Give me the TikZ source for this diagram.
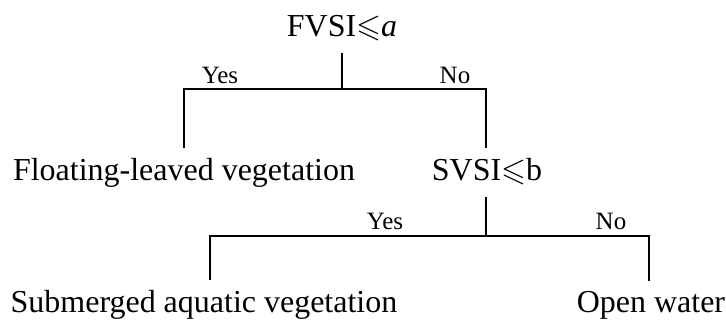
\documentclass[tikz,border=0pt]{standalone}
\usepackage{fontspec}
\setmainfont{Liberation Serif}
\usepackage{amssymb}
\usepackage{tikz}

\tikzset{
  test/.style={font=\fontsize{9.1}{11}\selectfont, anchor=base, inner sep=3pt},
  answer/.style={font=\fontsize{7.1}{8.5}\selectfont, anchor=base, inner sep=0pt},
  branch/.style={draw=black, line width=0.45pt}
}

\begin{document}
\begin{tikzpicture}
                    \useasboundingbox (0,0) rectangle (7.26,3.21);

                    \node[test] (FVSI) at (3.42,2.84) {FVSI$\leqslant$\textit{a}};
                    \node[test] (FLV) at (1.84,1.40) {Floating-leaved vegetation};
                    \node[test] (SVSI) at (4.87,1.40) {SVSI$\leqslant$b};
                    \node[test] (SAV) at (2.04,0.08) {Submerged aquatic vegetation};
                    \node[test] (OW) at (6.51,0.08) {Open water};

                    \coordinate (J1) at (3.42,2.32);
                    \coordinate (J1L) at (1.84,2.32);
                    \coordinate (J1R) at (4.86,2.32);
                    \coordinate (J2) at (4.86,0.85);
                    \coordinate (J2L) at (2.10,0.85);
                    \coordinate (J2R) at (6.49,0.85);

                    \node[answer] (Yes1) at (2.20,2.37) {Yes};
                    \node[answer] (No1) at (4.55,2.37) {No};
                    \node[answer] (Yes2) at (3.85,0.91) {Yes};
                    \node[answer] (No2) at (6.11,0.91) {No};

                    \draw[branch] (FVSI.south) -- (J1);
                    \draw[branch] (FLV.north -| J1L) -- (J1L) -- (J1R) -- (SVSI.north -| J1R);
                    \draw[branch] (SVSI.south -| J2) -- (J2);
                    \draw[branch] (SAV.north -| J2L) -- (J2L) -- (J2R) -- (OW.north -| J2R);
                \end{tikzpicture}
\end{document}
